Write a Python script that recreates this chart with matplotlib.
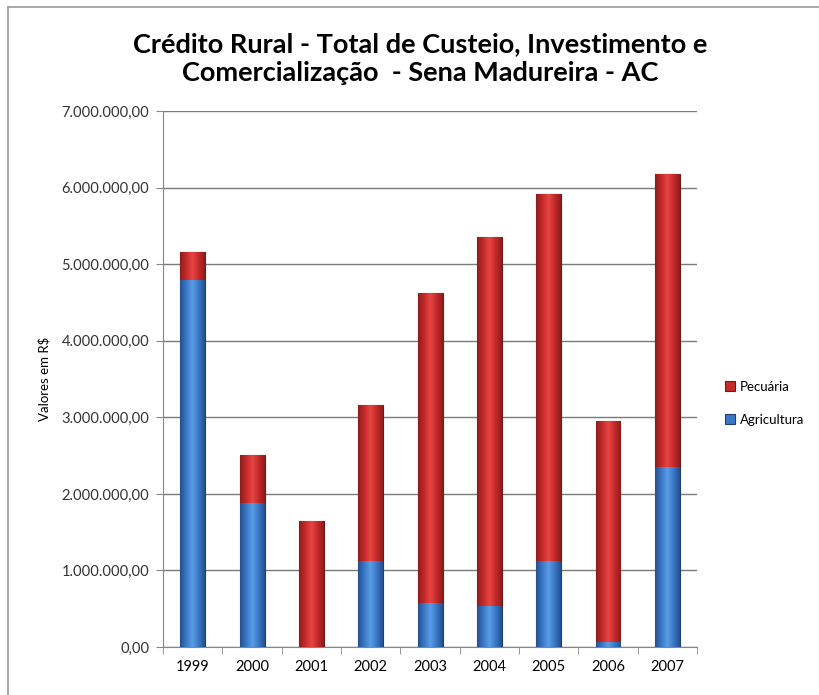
import numpy as np
import matplotlib.pyplot as plt
from matplotlib.colors import LinearSegmentedColormap
from matplotlib.lines import Line2D
from matplotlib.ticker import FuncFormatter

anos = ["1999", "2000", "2001", "2002", "2003", "2004", "2005", "2006", "2007"]
agricultura = [4790000, 1880000, 0, 1130000, 570000, 540000, 1130000, 60000, 2350000]
pecuaria = [370000, 630000, 1650000, 2030000, 4050000, 4820000, 4790000, 2890000, 3830000]

FONT = ["Lato", "DejaVu Sans"]
plt.rcParams["font.family"] = FONT

blue_cmap = LinearSegmentedColormap.from_list(
    "azul", ["#24508f", "#3a78c6", "#5a9de6", "#3a78c6", "#24508f"])
red_cmap = LinearSegmentedColormap.from_list(
    "verm", ["#8e1c1c", "#c52a2a", "#e84444", "#c52a2a", "#8e1c1c"])


def fmt_real(v, pos):
    s = f"{v:,.2f}"
    return s.replace(",", "X").replace(".", ",").replace("X", ".")


def shade_bars(ax, bars, cmap):
    grad = np.linspace(0, 1, 64).reshape(1, -1)
    for b in bars:
        if b.get_height() <= 0:
            continue
        x0, y0 = b.get_x(), b.get_y()
        im = ax.imshow(grad, extent=[x0, x0 + b.get_width(), y0, y0 + b.get_height()],
                       aspect="auto", cmap=cmap, zorder=3, interpolation="bilinear")
        im.set_clip_path(b)


fig = plt.figure(figsize=(8.2, 6.95), dpi=100)
# only top and left edges of the chart frame are visible in the original
fig.add_artist(Line2D([0.0098, 1.0], [0.990, 0.990], transform=fig.transFigure,
                      color="#9a9a9a", linewidth=1.2))
fig.add_artist(Line2D([0.0098, 0.0098], [0.0, 0.990], transform=fig.transFigure,
                      color="#9a9a9a", linewidth=1.2))

ax = fig.add_axes([0.199, 0.069, 0.651, 0.771])
x = np.arange(len(anos))
w = 0.42
b1 = ax.bar(x, agricultura, w, color="#3a78c6", edgecolor="#1f3f6e", linewidth=0.8,
            label="Agricultura", zorder=3)
b2 = ax.bar(x, pecuaria, w, bottom=agricultura, color="#c52a2a", edgecolor="#6e1a1a",
            linewidth=0.8, label="Pecuária", zorder=3)
shade_bars(ax, b1, blue_cmap)
shade_bars(ax, b2, red_cmap)

ax.set_xlim(-0.5, len(anos) - 0.5)
ax.set_ylim(0, 7000000)
ax.set_yticks(np.arange(0, 7000001, 1000000))
ax.yaxis.set_major_formatter(FuncFormatter(fmt_real))
ax.set_xticks(x)
ax.set_xticklabels(anos)
ax.set_xticks(np.arange(-0.5, len(anos)), minor=True)
ax.tick_params(axis="x", which="major", length=0, pad=9, labelsize=10.5)
ax.tick_params(axis="x", which="minor", length=5, color="#868686", direction="out")
ax.tick_params(axis="y", length=5, color="#868686", labelsize=10.6, pad=5,
               labelcolor="#333333")

ax.grid(axis="y", color="#7a7a7a", linewidth=1.0, zorder=0)
ax.set_axisbelow(True)
for side in ["top", "right"]:
    ax.spines[side].set_visible(False)
ax.spines["left"].set_color("#868686")
ax.spines["bottom"].set_color("#868686")

ax.set_ylabel("Valores em R$", fontsize=9.5, labelpad=8)

ax.set_title("Crédito Rural - Total de Custeio, Investimento e\nComercialização  - Sena Madureira - AC",
             fontsize=19.5, fontweight="bold", pad=22, linespacing=1.22, x=0.481)

handles, labels = ax.get_legend_handles_labels()
ax.legend(handles[::-1], labels[::-1], loc="center left", bbox_to_anchor=(1.03, 0.455),
          frameon=False, fontsize=9.5, handlelength=0.8, handleheight=0.8,
          handletextpad=0.35, labelspacing=1.6)

fig.savefig("out.png", dpi=100)
